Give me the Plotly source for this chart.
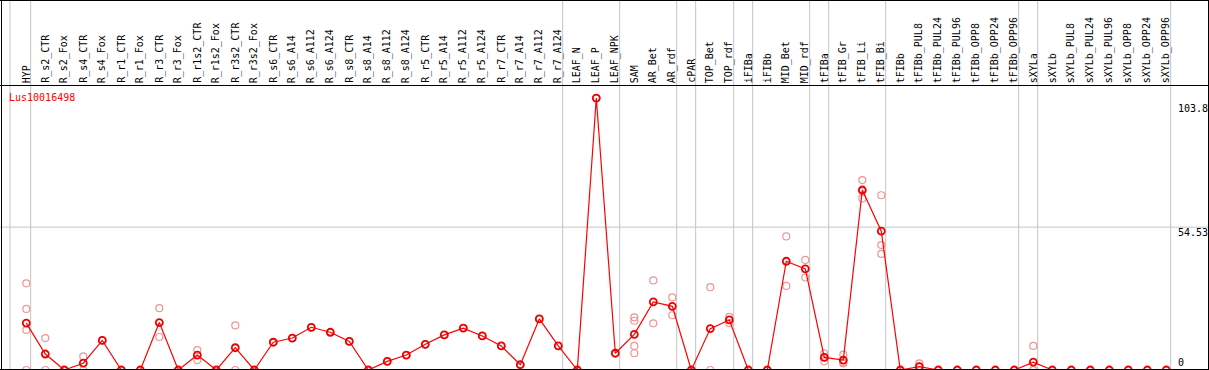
import plotly.graph_objects as go

W, H = 1209, 370

categories = ["HYP", "R_s2_CTR", "R_s2_Fox", "R_s4_CTR", "R_s4_Fox", "R_r1_CTR", "R_r1_Fox",
              "R_r3_CTR", "R_r3_Fox", "R_r1s2_CTR", "R_r1s2_Fox", "R_r3s2_CTR", "R_r3s2_Fox",
              "R_s6_CTR", "R_s6_A14", "R_s6_A112", "R_s6_A124", "R_s8_CTR", "R_s8_A14",
              "R_s8_A112", "R_s8_A124", "R_r5_CTR", "R_r5_A14", "R_r5_A112", "R_r5_A124",
              "R_r7_CTR", "R_r7_A14", "R_r7_A112", "R_r7_A124", "LEAF_N", "LEAF_P", "LEAF_NPK",
              "SAM", "AR_Bet", "AR_rdf", "cPAR", "TOP_Bet", "TOP_rdf", "iFIBa", "iFIBb",
              "MID_Bet", "MID_rdf", "tFIBa", "tFIB_Gr", "tFIB_Li", "tFIB_Bi", "tFIBb",
              "tFIBb_PUL8", "tFIBb_PUL24", "tFIBb_PUL96", "tFIBb_OPP8", "tFIBb_OPP24",
              "tFIBb_OPP96", "sXYLa", "sXYLb", "sXYLb_PUL8", "sXYLb_PUL24", "sXYLb_PUL96",
              "sXYLb_OPP8", "sXYLb_OPP24", "sXYLb_OPP96"]

means = [17.9, 6.1, 0, 2.6, 11.3, 0, 0, 18.1, 0, 5.7, 0, 8.5, 0,
         10.6, 12.2, 16.3, 14.4, 10.9, 0, 3.3, 5.7, 9.8, 13.4, 16.0, 13.0,
         9.2, 2.0, 19.5, 9.2, 0, 103.8, 6.4, 13.6, 26.0, 24.3, 0, 15.8, 19.1, 0, 0,
         41.5, 38.6, 4.8, 3.8, 68.7, 53.0, 0, 1.3, 0, 0, 0, 0, 0, 3.0,
         0, 0, 0, 0, 0, 0, 0]

replicates = {
    0: [33.1, 23.3, 15.3, 0],
    1: [12.2, 0],
    3: [5.2, 0],
    7: [23.6, 12.6],
    9: [7.6, 3.8],
    11: [17.0, 0],
    32: [20.1, 18.8, 9.2, 6.4],
    33: [34.2, 17.8],
    34: [27.7, 20.9],
    36: [31.6, 0],
    37: [20.3, 17.9],
    40: [51.0, 32.1],
    41: [42.0, 35.3],
    42: [6.4, 4.8, 3.3],
    43: [5.9, 3.0, 2.5],
    44: [72.5, 68.2, 65.5],
    45: [66.7, 47.7, 44.3],
    47: [2.5, 1.3, 0],
    53: [9.2, 0, 0],
}

group_ends = [0, 28, 31, 34, 35, 37, 38, 41, 42, 45, 52, 53, 60]
y_ticks = [103.8, 54.53, 0]
gene_name = "Lus10016498"

# ---- geometry ----
x_step = 19.0          # px per category
x_first = 26.3         # px of first category
x0 = -x_first / x_step
x1 = x0 + W / x_step
px_per_unit = 2.62
y_top = H / px_per_unit

FONT = "DejaVu Sans Mono"

rep_x, rep_y = [], []
for i, m in enumerate(means):
    vals = replicates.get(i, [m])
    for v in vals:
        rep_x.append(i)
        rep_y.append(v)

fig = go.Figure()
fig.add_trace(go.Scatter(
    x=rep_x, y=rep_y, mode="markers",
    marker=dict(symbol="circle-open", size=7, color="rgb(236,150,150)",
                line=dict(width=1.2, color="rgb(236,150,150)")),
    hoverinfo="skip", showlegend=False))
fig.add_trace(go.Scatter(
    x=list(range(len(categories))), y=means, mode="lines+markers",
    line=dict(color="#ff0000", width=1.2),
    marker=dict(symbol="circle-open", size=7, color="#ee0000",
                line=dict(width=1.8, color="#ee0000")),
    text=categories, showlegend=False))

shapes = []
gray = "#c4c4c4"
vlines = [-0.86] + [g + 0.23 for g in group_ends]
for xv in vlines:
    shapes.append(dict(type="line", xref="x", yref="paper", x0=xv, x1=xv, y0=0, y1=1,
                       line=dict(color=gray, width=1), layer="below"))
# horizontal mid gridline
shapes.append(dict(type="line", xref="paper", yref="y", x0=0, x1=1, y0=y_ticks[1], y1=y_ticks[1],
                   line=dict(color=gray, width=1), layer="below"))
# black frame lines (pixel positions)
def hline(py):
    return dict(type="line", xref="paper", yref="paper", x0=0, x1=1,
                y0=1 - py / H, y1=1 - py / H, line=dict(color="black", width=1))
def vline(px):
    return dict(type="line", xref="paper", yref="paper", x0=px / W, x1=px / W,
                y0=0, y1=1, line=dict(color="black", width=1))
shapes += [hline(0.5), hline(85.5), hline(369.5), vline(1.5), vline(1208.5)]

annotations = []
label_bottom = 84
for i, c in enumerate(categories):
    annotations.append(dict(x=i, xref="x", y=1 - label_bottom / H, yref="paper",
                            text=c, textangle=-90, showarrow=False,
                            xanchor="center", yanchor="bottom", borderpad=0,
                            font=dict(family=FONT, size=10, color="black")))
annotations.append(dict(x=8 / W, xref="paper", y=1 - 97 / H, yref="paper", text=gene_name,
                        showarrow=False, xanchor="left", yanchor="middle", borderpad=0,
                        font=dict(family=FONT, size=10, color="#ff0000")))
tick_shifts = [-10, -5, 8]
for v, s in zip(y_ticks, tick_shifts):
    annotations.append(dict(x=1177 / W, xref="paper", y=v, yref="y", yshift=s,
                            text=f"{v:g}", showarrow=False, xanchor="left", yanchor="middle",
                            borderpad=0, font=dict(family=FONT, size=10, color="black")))

fig.update_layout(
    width=W, height=H, margin=dict(l=0, r=0, t=0, b=0),
    paper_bgcolor="white", plot_bgcolor="white",
    xaxis=dict(range=[x0, x1], visible=False, showgrid=False, zeroline=False),
    yaxis=dict(range=[0, y_top], visible=False, showgrid=False, zeroline=False),
    shapes=shapes, annotations=annotations, showlegend=False,
)

fig.write_html("out.html", config={"displayModeBar": False},
               post_script="document.body.style.margin='0px';document.body.style.overflow='hidden';")
